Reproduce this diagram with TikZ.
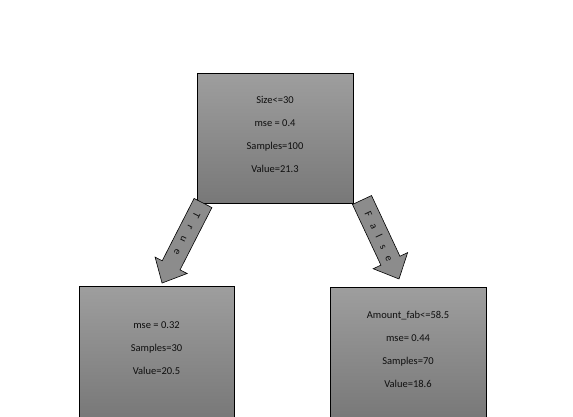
\documentclass[tikz,border=0pt]{standalone}
\usepackage{fontspec}
\setmainfont{Carlito}
\definecolor{boxtop}{RGB}{158,158,158}
\definecolor{boxbot}{RGB}{120,120,120}
\definecolor{arrowfill}{RGB}{140,140,140}
\definecolor{ink}{RGB}{15,15,15}
\begin{document}
\begin{tikzpicture}[x=1pt,y=-1pt,
  treebox/.style={draw=black, line width=0.8pt, top color=boxtop, bottom color=boxbot, inner sep=0pt},
  boxtext/.style={inner sep=0pt, align=center, text=ink, font=\fontsize{10.5}{23}\selectfont, yshift=4pt},
  blockarrow/.style={draw=black, line width=0.6pt, fill=arrowfill, line join=miter},
  arrowlabel/.style={inner sep=0pt, text=ink, font=\fontsize{10.5}{11}\selectfont, transform shape},
]
\useasboundingbox (0,0) rectangle (573,416);
\clip (0,0) rectangle (573,416);

% decision tree nodes
\node[treebox, minimum width=156pt, minimum height=130pt,
  label={[boxtext]center:{Size<=30\\mse = 0.4\\Samples=100\\Value=21.3}}] (root) at (275,138) {};
\node[treebox, minimum width=155pt, minimum height=132pt,
  label={[boxtext]center:{mse = 0.32\\Samples=30\\Value=20.5}}] (left) at (156.5,352) {};
\node[treebox, minimum width=156pt, minimum height=132pt,
  label={[boxtext]center:{Amount\_fab<=58.5\\mse= 0.44\\Samples=70\\Value=18.6}}] (right) at (408,353) {};

% branch arrows, drawn along the axis from the parent to each child
\coordinate (ltail) at (203,203);
\coordinate (rtail) at (362,200);
\begin{scope}[shift={(ltail)}, rotate=-117.1]
  \draw[blockarrow] (0,-10) -- (70,-10) -- (70,-18) -- (89.9,0)
    -- (70,18) -- (70,10) -- (0,10) -- cycle;
  \node[arrowlabel] (ltrue) at (35,0) {T\hspace{9pt}r\hspace{9pt}u\hspace{9pt}e};
\end{scope}
\begin{scope}[shift={(rtail)}, rotate=-64.9]
  \draw[blockarrow] (0,-10.5) -- (67,-10.5) -- (67,-19) -- (87.2,0)
    -- (67,19) -- (67,10.5) -- (0,10.5) -- cycle;
  \node[arrowlabel] (rfalse) at (40,0) {F\hspace{8pt}a\hspace{8pt}l\hspace{8pt}s\hspace{8pt}e};
\end{scope}
\end{tikzpicture}
\end{document}
